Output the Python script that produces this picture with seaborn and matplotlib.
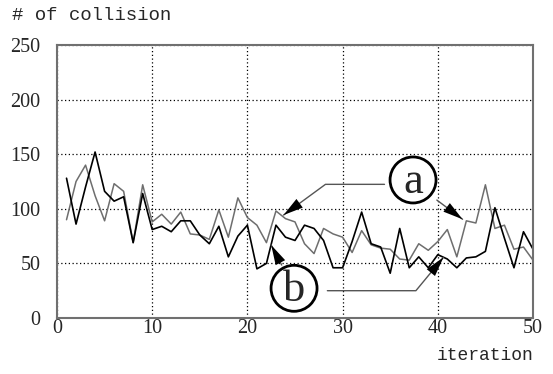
import numpy as np
import pandas as pd
import matplotlib
matplotlib.use("Agg")
import matplotlib.pyplot as plt
import seaborn as sns
from matplotlib.patches import Ellipse

iteration = list(range(1, 51))
series_a = [90, 125, 140, 112, 89, 123, 116, 69, 122, 88,
            95, 86, 97, 77, 76, 72, 99, 74, 110, 92,
            85, 69, 98, 91, 88, 68, 59, 82, 77, 74,
            60, 80, 67, 64, 63, 54, 53, 68, 62, 70,
            81, 56, 89, 87, 122, 82, 85, 63, 65, 53]
series_b = [128, 86, 120, 152, 116, 107, 111, 69, 114, 81,
            84, 79, 89, 89, 76, 68, 84, 56, 75, 85,
            45, 50, 85, 74, 71, 85, 82, 71, 46, 46,
            70, 97, 68, 65, 41, 82, 46, 56, 46, 58,
            54, 46, 55, 56, 61, 101, 73, 46, 79, 63]
x_ticks = [0, 10, 20, 30, 40, 50]
y_ticks = [0, 50, 100, 150, 200, 250]
y_title = "# of collision"
x_title = "iteration"

df = pd.DataFrame({"iteration": iteration, "a": series_a, "b": series_b})

sns.set_style("white")
plt.rcParams["font.family"] = ["Liberation Serif", "DejaVu Serif"]

fig = plt.figure(figsize=(5.53, 3.74), dpi=100)
ax = fig.add_axes([57/553, 1-318/374, (533-57)/553, (318-45)/374])

sns.lineplot(data=df, x="iteration", y="a", ax=ax, color="#6e6e6e", lw=1.1)
sns.lineplot(data=df, x="iteration", y="b", ax=ax, color="#000000", lw=1.2)

ax.set_xlim(0, 50)
ax.set_ylim(0, 250)
ax.set_xticks(x_ticks)
ax.set_yticks(y_ticks)
ax.set_xticklabels([str(t) for t in x_ticks], fontsize=14.5)
ax.set_yticklabels([str(t) for t in y_ticks], fontsize=14.5)
ax.tick_params(axis="both", length=0)
ax.tick_params(axis="x", pad=1)
ax.tick_params(axis="y", pad=12)
ax.set_xlabel("")
ax.set_ylabel("")
ax.grid(True, color="black", linestyle=(0, (1, 2)), lw=0.9)
for s in ax.spines.values():
    s.set_color("#707070")
    s.set_linewidth(1.5)

fig.text(12/553, 1-15/374, y_title, fontsize=13.7, family=["Liberation Mono", "DejaVu Sans Mono"],
         va="center", ha="left")
fig.text(533/553, 1-355/374, x_title, fontsize=13, family=["Liberation Mono", "DejaVu Sans Mono"],
         va="center", ha="right")

# circled labels
px_x = (533-57)/50.0
px_y = (318-45)/250.0
r = 23
for cx, cy, lab in [(37.4, 126.4, "a"), (24.9, 27.2, "b")]:
    ax.add_patch(Ellipse((cx, cy), 2*r/px_x, 2*r/px_y, fill=False, ec="black", lw=2.0, zorder=5))
    ax.text(cx, cy - 1.5, lab, fontsize=32, ha="center", va="center", zorder=6)

lc = "#555555"
def leader(points):
    xs = [p[0] for p in points]
    ys = [p[1] for p in points]
    ax.plot(xs, ys, color=lc, lw=1.0, zorder=4)
    ax.annotate("", xy=points[-1], xytext=points[-2],
                arrowprops=dict(arrowstyle="-|>,head_length=1.3,head_width=0.35",
                                color="black", lw=0, mutation_scale=11, shrinkA=0, shrinkB=0),
                zorder=6)

leader([(34.4, 122.4), (28.2, 122.4), (23.8, 94.3)])
leader([(39.9, 108), (42.6, 90.4)])
leader([(23.6, 48.5), (22.5, 66.8)])
leader([(28.4, 25), (37.7, 25), (40.6, 55.6)])

fig.savefig("out.png", dpi=100)
